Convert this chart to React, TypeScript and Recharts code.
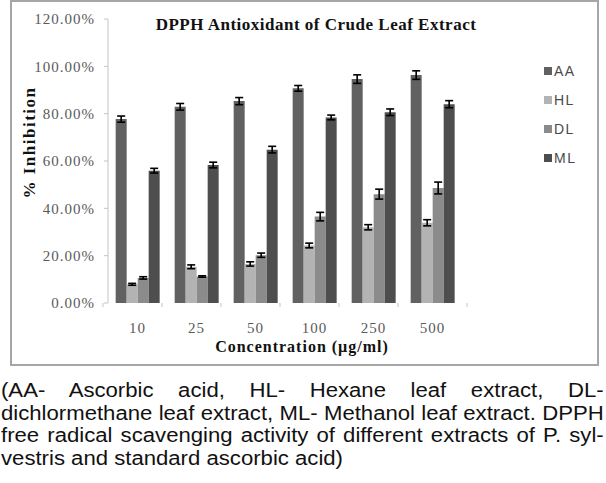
import React from "react";
import { BarChart, Bar, XAxis, YAxis, Legend, ErrorBar } from "recharts";

// concentration in µg/ml
const categories = ["10", "25", "50", "100", "250", "500"];

// % inhibition per extract, with error (±)
const aa = [77.7, 82.9, 85.3, 90.7, 94.6, 96.3];
const aaErr = [1.3, 1.4, 1.5, 1.2, 1.8, 1.8];
const hl = [7.9, 15.3, 16.5, 24.3, 32.0, 33.9];
const hlErr = [0.4, 0.8, 0.9, 1.0, 1.1, 1.3];
const dl = [10.6, 11.2, 20.2, 36.5, 46.0, 48.6];
const dlErr = [0.5, 0.3, 0.9, 1.8, 2.1, 2.5];
const ml = [55.9, 58.3, 64.8, 78.4, 80.6, 84.0];
const mlErr = [1.0, 1.2, 1.4, 1.0, 1.4, 1.5];

const yTicks = [0, 20, 40, 60, 80, 100, 120];

const captionLines = [
  "(AA- Ascorbic acid, HL- Hexane leaf extract, DL-",
  "dichlormethane leaf extract, ML- Methanol leaf extract. DPPH",
  "free radical scavenging activity of different extracts of P. syl-",
  "vestris and standard ascorbic acid)",
];

const data = categories.map((c, i) => ({
  conc: c,
  AA: aa[i],
  aaErr: aaErr[i],
  HL: hl[i],
  hlErr: hlErr[i],
  DL: dl[i],
  dlErr: dlErr[i],
  ML: ml[i],
  mlErr: mlErr[i],
}));

const series = [
  { key: "AA", err: "aaErr", color: "#616161" },
  { key: "HL", err: "hlErr", color: "#b3b3b3" },
  { key: "DL", err: "dlErr", color: "#8b8b8b" },
  { key: "ML", err: "mlErr", color: "#4e4e4e" },
];

const W = 606;
const H = 370;
const margin = { top: 19, right: 84, bottom: 27, left: 0 };
const yAxisW = 108;
const band = (W - margin.right - yAxisW) / categories.length;

const serif = "'Liberation Serif', 'Times New Roman', serif";
const sans = "'Liberation Sans', Arial, sans-serif";

function XTick(props: any) {
  const { x, y, payload, index } = props;
  const last = index === categories.length - 1;
  return (
    <g>
      <line x1={x - band / 2} x2={x - band / 2} y1={y} y2={y + 4} stroke="#c4c4c4" />
      {last && <line x1={x + band / 2} x2={x + band / 2} y1={y} y2={y + 4} stroke="#c4c4c4" />}
      <text x={x} y={y + 30} textAnchor="middle" fill="#5a5a5a" fontSize={15} fontFamily={serif} letterSpacing={1}>
        {payload.value}
      </text>
    </g>
  );
}

// legend keeps the series order (AA, HL, DL, ML) instead of sorting
function LegendBox() {
  return (
    <div>
      {series.map((s) => (
        <div key={s.key} style={{ height: 29, display: "flex", alignItems: "center" }}>
          <span style={{ width: 8, height: 8, background: s.color, marginRight: 2 }} />
          <span style={{ fontFamily: sans, fontSize: 14, color: "#4a4a4a", letterSpacing: 1.5 }}>{s.key}</span>
        </div>
      ))}
    </div>
  );
}

export default function App() {
  return (
    <div style={{ position: "absolute", left: 0, top: 0, width: W, height: 483, background: "#fff" }}>
      <div
        style={{
          position: "absolute",
          left: 10,
          top: 0,
          width: 585,
          height: 362,
          border: "2px solid #a6a6a6",
        }}
      />
      <div style={{ position: "absolute", left: 0, top: 0 }}>
        <BarChart width={W} height={H} data={data} margin={margin} barCategoryGap="13%" barGap={0}>
          <XAxis dataKey="conc" axisLine={false} tickLine={false} tickSize={0} tickMargin={0} height={40} tick={<XTick />} interval={0} />
          <YAxis
            width={yAxisW}
            domain={[0, 120]}
            ticks={yTicks}
            tickFormatter={(v: number) => `${v.toFixed(2)}%`}
            stroke="#c4c4c4"
            tickSize={4}
            tickMargin={9}
            tick={{ fill: "#5a5a5a", fontSize: 15, fontFamily: serif, letterSpacing: 1 }}
          />
          <Legend
            layout="vertical"
            align="right"
            verticalAlign="top"
            content={<LegendBox />}
            wrapperStyle={{ left: 544, top: 56, width: 60, right: "auto" }}
          />
          {series.map((s) => (
            <Bar key={s.key} dataKey={s.key} fill={s.color} isAnimationActive={false}>
              <ErrorBar dataKey={s.err} width={4} stroke="#000" strokeWidth={1.6} direction="y" isAnimationActive={false} />
            </Bar>
          ))}
        </BarChart>
      </div>
      <svg width={W} height={H} style={{ position: "absolute", left: 0, top: 0, pointerEvents: "none" }}>
        <text x={316} y={30} textAnchor="middle" fontFamily={serif} fontWeight="bold" fontSize={17} letterSpacing={0.5} fill="#111">
          DPPH Antioxidant of Crude Leaf Extract
        </text>
        <text
          transform="translate(35,142.5) rotate(-90)"
          textAnchor="middle"
          fontFamily={serif}
          fontWeight="bold"
          fontSize={17}
          letterSpacing={1.5}
          fill="#111"
        >
          % Inhibition
        </text>
        <text x={302} y={352} textAnchor="middle" fontFamily={serif} fontWeight="bold" fontSize={16} letterSpacing={1} fill="#111">
          Concentration  (µg/ml)
        </text>
      </svg>
      <div
        style={{
          position: "absolute",
          left: 1,
          top: 379,
          width: 531,
          transform: "scaleX(1.135)",
          transformOrigin: "left top",
          fontFamily: sans,
          fontSize: 19.5,
          lineHeight: "22.7px",
          color: "#111",
        }}
      >
        {captionLines.map((l, i) => (
          <div
            key={i}
            style={{
              textAlign: i < captionLines.length - 1 ? "justify" : "left",
              textAlignLast: i < captionLines.length - 1 ? "justify" : "left",
              whiteSpace: "pre-wrap",
            }}
          >
            {l}
          </div>
        ))}
      </div>
    </div>
  );
}
